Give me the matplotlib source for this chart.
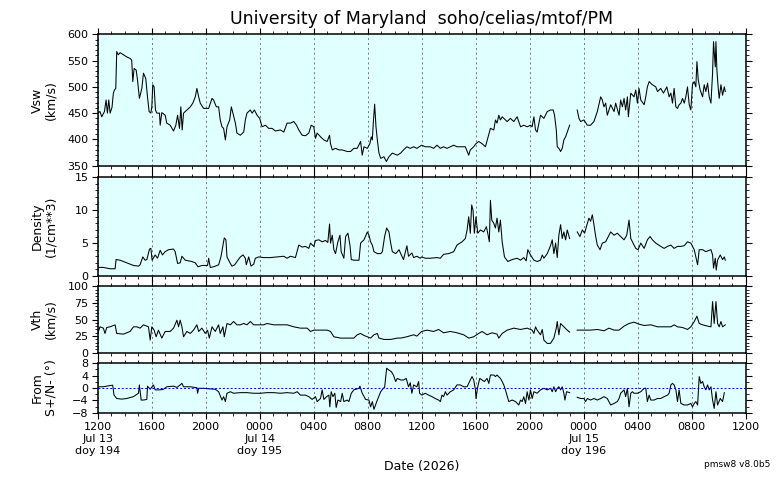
import numpy as np
import matplotlib
matplotlib.use("Agg")
import matplotlib.pyplot as plt
from matplotlib.ticker import MultipleLocator

# time axis: hours since 2026 Jul 13 12:00 (nan value = data gap)
vsw_t = [0, 0.17, 0.30, 0.50, 0.62, 0.72, 0.82, 0.92, 1.06, 1.16, 1.24, 1.34, 1.41, 1.53, 1.66, 1.91, 2.15, 2.40,
         2.52, 2.60, 2.70, 2.85, 2.95, 3.09, 3.27, 3.39, 3.56, 3.69, 3.81, 3.94, 4.01, 4.08, 4.18, 4.28, 4.38, 4.58,
         4.63, 4.75, 5.00, 5.12, 5.37, 5.62, 5.79, 5.92, 6.06, 6.16, 6.26, 6.36, 6.61, 6.86, 7.05, 7.23, 7.35, 7.48,
         7.60, 7.85, 8.00, 8.22, 8.47, 8.59, 8.79, 8.96, 9.08, 9.21, 9.33, 9.46, 9.58, 9.78, 9.90, 10.02, 10.20, 10.32,
         10.57, 10.82, 10.94, 11.06, 11.31, 11.44, 11.61, 11.81, 12.00, 12.18, 12.43, 12.67, 12.92, 13.17, 13.54, 13.79,
         14.03, 14.28, 14.53, 14.73, 14.90, 15.15, 15.40, 15.64, 15.82, 16.01, 16.14, 16.26, 16.51, 16.76, 17.00, 17.18,
         17.25, 17.38, 17.62, 17.87, 18.12, 18.49, 18.74, 18.98, 19.23, 19.48, 19.60, 19.73, 19.98, 20.17, 20.27, 20.35,
         20.42, 20.52, 20.62, 20.72, 20.84, 20.97, 21.21, 21.39, 21.58, 21.83, 22.20, 22.45,
         22.66, 22.91, 23.16, 23.41, 23.65, 24.00, 24.27, 24.64, 24.89, 25.14, 25.39, 25.63, 25.88, 26.13, 26.38, 26.62,
         26.87, 27.24, 27.49, 27.61, 27.86, 28.03, 28.23, 28.48, 28.73, 28.90, 29.10, 29.35, 29.47, 29.59, 29.72, 29.84,
         29.97, 30.09, 30.34, 30.58, 30.83, 31.08, 31.33, 31.57, 31.82, 32.07, 32.19, 32.32, 32.44, 32.56, 32.81, 33.06,
         33.31, 33.55, 33.75, 33.85, 33.98, 34.05, 34.17, 34.30, 34.42, 34.54, 34.67, 34.79, 34.97, 35.2,
         35.53, 35.66, 35.78, 36.03, 36.28, 36.52, 36.77, 37.02, 37.27, 37.39, 37.51, 37.64, 37.76, 38.01, 38.26, 38.38,
         38.63, 38.75, 38.88, 39.00, 39.12, 39.25, 39.32, 39.50, 39.74, 39.87, 39.99, 40.11, 40.24, 40.49, 40.61, 40.73,
         40.86, 41.10, 41.35, 41.48, 41.72, 41.92, 42.17, 42.34, 42.47, 42.59, 42.71, 42.84, 42.96, 43.08, 43.21, 43.33,
         43.46, 43.58, 43.70, 43.83, 43.95, 44.07, 44.20, 44.32, 44.40, 44.50, 44.64, 44.82, 44.94, 45.06, 45.19, 45.31,
         45.44, 45.56, 45.63, 45.76, 45.81, 45.88, 45.98, 46.05, 46.18, 46.30, 46.43, 46.50]
vsw = [450, 453, 443, 453, 475, 450, 475, 450, 461, 488, 494, 497, 567, 561, 565, 561, 557, 554,
       551, 510, 535, 532, 513, 478, 497, 526, 516, 481, 453, 450, 462, 504, 500, 456, 450, 450,
       427, 451, 446, 431, 427, 416, 427, 446, 421, 462, 418, 450, 456, 462, 469, 481, 497, 481,
       469, 459, 459, 459, 478, 475, 462, 462, 437, 424, 421, 399, 424, 437, 462, 450, 431, 412,
       408, 414, 437, 450, 456, 450, 456, 446, 440, 424, 427, 421, 421, 416, 418, 414,
       431, 431, 434, 427, 418, 408, 407, 412, 427, 424, 402, 412, 405, 399, 396, 408,
       392, 380, 383, 380, 380, 377, 377, 383, 383, 396, 370, 386, 383, 392, 405, 399,
       431, 467, 424, 399, 374, 364, 367, 358, 367, 374, 370, 374,
       380, 386, 383, 386, 383, 389, 386, 386, 383, 389, 383, 386, 383, 386, 389, 386,
       386, 386, 370, 380, 386, 392, 396, 392, 386, 402, 421, 418, 437, 431, 446, 437,
       443, 440, 434, 440, 434, 443, 424, 427, 424, 427, 424, 443, 418, 414, 446, 440,
       453, 456, 456, 446, 418, 386, 383, 377, 383, 399, 405, 414, 427, np.nan,
       456, 440, 434, 437, 427, 427, 434, 453, 481, 475, 462, 469, 446, 466, 453, 469,
       446, 475, 462, 478, 456, 481, 443, 488, 481, 494, 469, 497, 475, 466, 481, 500,
       510, 504, 500, 491, 497, 488, 500, 481, 488, 469, 497, 462, 459, 466, 469, 478,
       469, 481, 500, 466, 456, 504, 510, 500, 548, 513, 494, 481, 504, 491, 507, 481,
       469, 526, 586, 538, 586, 532, 497, 478, 504, 484, 500, 491]

dens_t = [0, 0.42, 0.92, 1.29, 1.36, 1.66, 2.15, 2.65, 3.02, 3.14, 3.34, 3.51, 3.64, 3.84, 3.94, 4.03, 4.26, 4.43,
          4.63, 4.80, 5.00, 5.25, 5.62, 5.74, 5.92, 6.11, 6.24, 6.49, 6.73, 6.98, 7.23, 7.43, 7.72, 7.97, 8.14, 8.22,
          8.34, 8.59, 8.96, 9.13, 9.28, 9.38, 9.50, 9.58, 9.70, 9.83, 9.95, 10.15, 10.32, 10.57, 10.77, 10.94, 11.01,
          11.19, 11.36, 11.56, 11.68, 11.93, 12.30, 12.80, 13.29, 13.79, 14.03, 14.28, 14.65, 14.90, 15.15, 15.40,
          15.64, 15.77, 16.01, 16.14, 16.39, 16.63, 16.88, 17.05, 17.18, 17.25, 17.38, 17.50, 17.62, 17.80, 17.95,
          18.04, 18.24, 18.37, 18.54, 18.69, 18.79, 18.98, 19.36, 19.48, 19.73, 19.98, 20.10, 20.22, 20.35, 20.47,
          20.72, 20.97, 21.09, 21.26, 21.41, 21.58, 21.71, 21.83, 22.08, 22.33, 22.45,
          22.66, 22.91, 23.03, 23.28, 23.41, 23.65, 23.90, 24.00, 24.27, 24.64, 25.14, 25.39, 25.63, 26.00, 26.38,
          26.62, 27.00, 27.24, 27.37, 27.49, 27.61, 27.71, 27.81, 27.91, 28.03, 28.16, 28.36, 28.60, 28.80, 28.93,
          29.02, 29.10, 29.20, 29.35, 29.47, 29.59, 29.72, 29.84, 29.97, 30.14, 30.39, 30.71, 31.08, 31.33, 31.57,
          31.75, 31.87, 32.07, 32.32, 32.56, 32.81, 32.94, 33.06, 33.31, 33.55, 33.68, 33.80, 33.93, 34.05, 34.17,
          34.30, 34.42, 34.54, 34.67, 34.79, 34.97, 35.2,
          35.53, 35.73, 35.91, 36.08, 36.28, 36.40, 36.52, 36.65, 36.77, 36.90, 37.02, 37.22, 37.39, 37.64, 37.76,
          38.01, 38.26, 38.50, 38.75, 39.00, 39.20, 39.37, 39.50, 39.74, 39.87, 40.04, 40.24, 40.49, 40.73, 40.93,
          41.10, 41.35, 41.72, 41.97, 42.22, 42.47, 42.71, 42.96, 43.21, 43.46, 43.70, 43.95, 44.20, 44.32, 44.45,
          44.57, 44.82, 45.06, 45.44, 45.56, 45.63, 45.76, 45.83, 45.93, 46.13, 46.30, 46.43, 46.50]
dens = [1.3, 1.3, 1.1, 1.1, 2.5, 2.4, 2.0, 1.6, 1.5, 1.7, 2.9, 2.4, 2.5, 4.1, 4.2, 2.4, 3.2, 2.7,
        3.9, 3.2, 3.7, 4.0, 4.1, 3.7, 1.9, 2.0, 3.0, 2.4, 2.3, 2.2, 2.0, 1.4, 1.6, 1.6, 1.6, 2.7,
        1.3, 1.4, 1.7, 2.9, 4.7, 5.8, 5.5, 2.9, 2.4, 1.9, 1.5, 1.7, 2.2, 2.9, 3.2, 2.7, 1.7,
        2.9, 1.5, 1.8, 2.7, 2.9, 2.8, 2.8, 2.9, 3.0, 2.7, 3.0, 2.8, 4.7, 4.4, 4.5,
        4.2, 5.0, 4.5, 5.4, 5.5, 5.2, 5.4, 5.1, 7.9, 5.0, 6.2, 4.0, 3.4, 5.2, 6.2,
        3.7, 2.7, 6.0, 6.5, 4.7, 2.5, 2.4, 2.4, 5.0, 5.5, 6.7, 6.2, 5.2, 4.7, 3.7,
        3.4, 3.4, 3.7, 6.0, 7.3, 6.7, 5.0, 3.7, 3.4, 4.0, 3.4,
        2.5, 4.6, 3.0, 3.5, 2.8, 3.0, 2.7, 2.9, 2.7, 2.7, 2.8, 2.7, 3.3, 3.4, 3.7,
        4.7, 5.2, 5.7, 7.0, 9.0, 6.5, 10.8, 10.0, 6.5, 9.0, 6.5, 7.0, 6.7, 7.5, 6.2,
        5.2, 11.5, 8.5, 8.0, 7.3, 8.8, 6.7, 8.5, 5.2, 2.9, 2.2, 2.5, 2.7, 2.4, 2.8,
        2.3, 4.0, 3.2, 2.4, 2.2, 2.4, 3.2, 2.7, 3.4, 4.6, 5.5, 3.4, 5.0, 2.8, 6.2,
        7.8, 5.7, 6.7, 5.5, 7.0, 5.7, np.nan,
        6.7, 6.0, 7.0, 6.5, 8.0, 8.8, 8.3, 9.3, 7.8, 6.0, 4.7, 4.0, 5.0, 5.2, 5.7,
        6.7, 6.2, 6.5, 6.0, 5.5, 6.2, 8.5, 5.7, 4.7, 4.2, 4.0, 5.0, 4.2, 5.5, 6.0,
        5.5, 5.0, 4.5, 4.2, 4.5, 4.7, 4.2, 4.5, 4.5, 4.6, 5.2, 5.0, 4.0, 2.9, 1.7,
        4.0, 4.0, 3.7, 4.0, 3.2, 1.2, 2.7, 0.9, 2.4, 3.2, 2.5, 2.9, 2.4]

vth_t = [0, 0.17, 0.42, 0.54, 0.67, 0.92, 1.29, 1.41, 1.91, 2.40, 2.65, 2.90, 3.14, 3.39, 3.76, 3.89, 4.01, 4.18,
         4.33, 4.50, 4.75, 5.00, 5.37, 5.62, 5.87, 5.99, 6.11, 6.24, 6.36, 6.61, 6.86, 7.10, 7.35, 7.48, 7.72, 7.97,
         8.14, 8.27, 8.47, 8.71, 8.96, 9.08, 9.28, 9.38, 9.58, 9.83, 10.07, 10.32, 10.57, 10.82, 11.06, 11.31, 11.56,
         11.93, 12.30, 12.55, 13.04, 13.54, 14.03, 14.53, 15.02, 15.52, 15.77, 16.01, 16.51, 17.00, 17.25, 17.50,
         18.00, 18.49, 18.98, 19.23, 19.48, 19.73, 19.98, 20.22, 20.47, 20.72, 20.84, 21.21, 21.71, 22.20, 22.45,
         22.91, 23.41, 23.65, 24.00, 24.40, 24.89, 25.26, 25.63, 26.13, 26.62, 27.12, 27.49, 27.86, 28.23, 28.48,
         28.85, 29.22, 29.59, 29.72, 29.97, 30.34, 30.83, 31.33, 31.82, 32.19, 32.32, 32.44, 32.56, 32.81, 32.94,
         33.06, 33.31, 33.55, 33.80, 33.98, 34.05, 34.17, 34.30, 34.54, 34.79, 34.97, 35.2,
         35.53, 36.03, 36.52, 37.02, 37.51, 37.89, 38.26, 38.63, 39.00, 39.37, 39.74, 40.11, 40.49, 40.98, 41.48,
         41.97, 42.47, 42.71, 42.96, 43.33, 43.70, 43.95, 44.20, 44.40, 44.57, 44.82, 45.19, 45.44, 45.56, 45.68,
         45.81, 45.93, 46.05, 46.18, 46.30, 46.50]
vth = [29, 39, 37, 29, 38, 39, 42, 29, 28, 32, 39, 39, 37, 42, 39, 19, 39, 34,
       24, 34, 22, 32, 32, 37, 49, 39, 49, 39, 24, 32, 29, 34, 42, 32, 37, 29,
       34, 22, 39, 32, 42, 29, 39, 24, 44, 42, 47, 42, 42, 44, 42, 47, 42,
       42, 42, 44, 42, 42, 42, 39, 37, 37, 32, 34, 34, 34, 32, 24,
       22, 22, 22, 27, 29, 26, 24, 22, 27, 29, 22, 20, 20, 22, 22,
       24, 27, 25, 32, 34, 32, 35, 30, 32, 30, 27, 22, 24, 29, 32,
       27, 30, 28, 22, 29, 34, 37, 35, 37, 34, 29, 39, 34, 27, 35,
       19, 14, 14, 22, 37, 47, 27, 44, 39, 34, 31, np.nan,
       34, 34, 34, 35, 33, 37, 34, 34, 40, 44, 46, 43, 41, 42, 39,
       39, 39, 42, 39, 38, 35, 39, 47, 55, 44, 42, 40, 39, 77, 44,
       77, 44, 39, 47, 39, 42]

flow_t = [0, 0.42, 0.92, 1.11, 1.21, 1.41, 1.78, 2.15, 2.65, 3.02, 3.09, 3.22, 3.39, 3.64, 3.69, 3.89, 4.13, 4.26,
          4.63, 4.88, 5.12, 5.62, 5.87, 6.11, 6.24, 6.36, 6.86, 7.35, 7.40, 7.48, 7.85, 8.34, 8.71, 8.96, 9.21, 9.33,
          9.46, 9.58, 9.83, 10.07, 10.57, 11.06, 11.56, 12.05, 12.55, 13.04, 13.54, 14.03, 14.53, 14.78, 15.02,
          15.40, 15.64, 15.89, 16.14, 16.26, 16.51, 16.63, 16.76, 16.96, 17.13, 17.20, 17.30, 17.43, 17.57, 17.67,
          17.80, 18.00, 18.12, 18.24, 18.49, 18.61, 18.79, 18.98, 19.36, 19.43, 19.60, 19.85, 20.10, 20.22, 20.35,
          20.47, 20.59, 20.72, 20.97, 21.16, 21.26, 21.41, 21.58, 21.76, 21.91, 22.08, 22.20, 22.45,
          22.66, 22.86, 23.03, 23.16, 23.28, 23.41, 23.65, 23.78, 23.85, 24.02, 24.27, 24.52, 24.77, 25.01, 25.26,
          25.39, 25.51, 25.63, 25.76, 25.88, 26.13, 26.38, 26.62, 26.87, 27.12, 27.37, 27.61, 27.74, 27.86, 27.99,
          28.03, 28.16, 28.31, 28.48, 28.65, 28.85, 28.98, 29.10, 29.35, 29.47, 29.59, 29.84, 29.97, 30.09, 30.21,
          30.46, 30.71, 30.96, 31.20, 31.33, 31.45, 31.57, 31.70, 31.82, 31.95, 32.07, 32.19, 32.32, 32.56, 32.81,
          33.06, 33.31, 33.55, 33.68, 33.80, 33.93, 34.05, 34.17, 34.30, 34.42, 34.54, 34.62, 34.74, 34.97, 35.2,
          35.53, 35.78, 36.03, 36.15, 36.28, 36.52, 36.77, 37.02, 37.27, 37.51, 37.76, 38.01, 38.26, 38.50, 38.63,
          38.75, 39.00, 39.12, 39.25, 39.37, 39.50, 39.62, 39.74, 39.99, 40.24, 40.49, 40.61, 40.73, 40.86, 40.98,
          41.23, 41.48, 41.72, 41.97, 42.22, 42.34, 42.47, 42.59, 42.71, 42.84, 42.96, 43.08, 43.21, 43.46, 43.70,
          43.95, 44.07, 44.20, 44.32, 44.45, 44.57, 44.69, 44.82, 44.94, 45.06, 45.19, 45.31, 45.44, 45.56, 45.68,
          45.81, 45.93, 46.13, 46.30, 46.43]
flow = [0.4, 0.4, 0.8, 0.9, -2.3, -3.4, -3.6, -3.4, -2.8, -1.7, 1.0, -3.9, -3.9, -3.7, 0.6, -0.4, 1.0, -0.6,
        -0.6, -0.4, 0.4, 0.6, 0.2, 1.0, 1.5, 0.4, 0.4, 0.1, -1.7, -0.1, -0.1, -0.3, -0.4, -1.2, -3.9, -2.8,
        -4.4, -1.7, -1.2, -1.7, -1.5, -1.5, -1.7, -1.7, -1.5, -1.5, -1.7, -1.5, -1.7, -1.2, -2.3,
        -2.3, -2.8, -3.7, -2.8, -4.4, -3.4, -0.6, -3.7, -2.8, -2.3, -6.1, -1.2, -2.8, -1.7, -6.3,
        -3.9, -4.4, -1.7, -4.4, -3.9, -4.4, -1.7, -0.6, -0.1, 0.6, -1.7, -3.7, -3.9, -6.1, -4.4,
        -6.9, -5.5, -3.9, -1.2, -0.1, 0.2, 6.4, 5.8, 5.3, 4.2, 2.1, 3.1, 2.6,
        2.6, 3.1, 0.4, 1.7, -1.7, 1.0, 0.4, 2.1, -1.7, -2.3, -1.7, -2.3, -2.8, -3.4, -3.9,
        -4.4, -2.3, -2.8, -1.2, -2.3, -1.2, -0.6, 1.0, 1.0, 0.4, 0.4, 2.6, 3.7, 2.6, -0.6,
        -3.4, 0.4, 3.1, 2.6, 2.1, 3.1, 1.5, 4.2, 4.2, 3.7, 4.2, 3.1, 2.1, 1.0, -0.6,
        -4.4, -3.9, -4.4, -5.5, -3.9, -4.4, -2.8, -5.0, -1.2, -3.9, -0.6, -3.4, -1.2, -1.7, -0.6,
        -0.1, -0.6, -0.1, -1.2, 0.4, -1.2, -0.1, 0.4, -0.6, 0.4, -1.7, -3.9, -1.2, -1.5, np.nan,
        -3.0, -3.4, -3.4, -4.4, -3.4, -3.9, -3.4, -3.9, -3.4, -2.8, -3.4, -5.5, -5.0, -4.4, -3.4,
        -1.7, -0.6, -2.8, -0.1, -6.1, -1.7, -1.2, -1.7, -1.7, -1.2, -0.1, -0.1, -4.4, -2.3, -3.9,
        -3.9, -3.4, -3.4, -2.8, -2.3, -1.7, 1.0, 1.5, 1.0, -0.6, -4.4, -0.6, -5.0, -5.5, -5.5,
        -5.0, -6.1, -5.0, -4.4, -5.5, 3.7, 1.5, 2.1, 0.4, -0.6, 1.0, -0.6, 0.4, -3.9, -6.6,
        -1.2, -5.5, -3.4, -4.4, -1.5]

tick_hours = list(range(0, 49, 4))
tick_labels = ['1200\nJul 13\ndoy 194', '1600', '2000', '0000\nJul 14\ndoy 195', '0400', '0800',
               '1200', '1600', '2000', '0000\nJul 15\ndoy 196', '0400', '0800', '1200']

panels = [
    (vsw_t, vsw, 'Vsw\n(km/s)', (350, 600), 50, 10, [0.6548, 0.2738]),
    (dens_t, dens, 'Density\n(1/cm**3)', (0, 15), 5, 1, [0.425, 0.2056]),
    (vth_t, vth, 'Vth\n(km/s)', (0, 100), 25, 5, [0.2652, 0.1383]),
    (flow_t, flow, 'From\nS+/N- (\u00b0)', (-8, 8), 4, 2, [0.1402, 0.1029]),
]

fig = plt.figure(figsize=(7.76, 4.8), dpi=100)
left, width = 0.1259, 0.8348
axes = []
for t, v, lab, ylim, major, minor, (y0, h) in panels:
    ax = fig.add_axes([left, y0, width, h])
    ax.set_facecolor('#e0ffff')
    ax.plot(t, v, color='black', lw=0.75)
    ax.set_xlim(0, 48)
    ax.set_ylim(*ylim)
    ax.set_yticks(np.arange(ylim[0], ylim[1] + 0.1, major))
    ax.yaxis.set_minor_locator(MultipleLocator(minor))
    ax.set_xticks(tick_hours)
    ax.xaxis.set_minor_locator(MultipleLocator(1))
    ax.tick_params(which='both', direction='out', top=True, right=True, labelsize=8, pad=2.5)
    ax.tick_params(which='major', length=4, width=0.8)
    ax.tick_params(which='minor', length=2.2, width=0.6)
    ax.grid(axis='x', which='major', color='#777777', linestyle=(0, (2, 3)), lw=0.7)
    for s in ax.spines.values():
        s.set_linewidth(1.1)
    ax.set_ylabel(lab, fontsize=9, linespacing=1.1)
    ax.yaxis.set_label_coords(-0.062, 0.5)
    ax.set_xticklabels([])
    axes.append(ax)

ax = axes[-1]
ax.axhline(0, color='blue', lw=0.7, linestyle=(0, (2, 2)))
ax.set_xticklabels(tick_labels, fontsize=8, linespacing=1.25)
ax.set_xlabel('Date (2026)', fontsize=9, labelpad=3)

fig.suptitle('University of Maryland  soho/celias/mtof/PM', fontsize=12.5, x=0.543, y=0.98)
fig.text(0.993, 0.022, 'pmsw8 v8.0b5', fontsize=6.5, ha='right', va='bottom')

fig.savefig('out.png', dpi=100)
